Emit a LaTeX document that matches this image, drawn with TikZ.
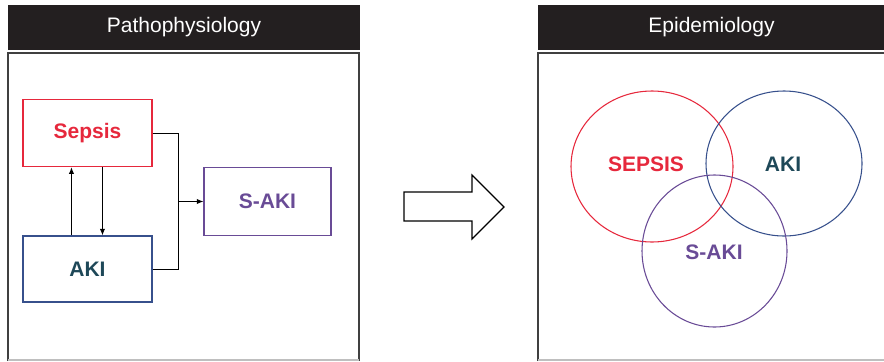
\documentclass[tikz,border=0pt]{standalone}
\usepackage{fontspec}
\setmainfont{Liberation Sans}
\usetikzlibrary{arrows.meta,calc}
\definecolor{sepsisred}{RGB}{230,40,60}
\definecolor{akiblue}{RGB}{55,80,140}
\definecolor{akiteal}{RGB}{30,72,88}
\definecolor{sakipurple}{RGB}{105,75,150}
\definecolor{barblack}{RGB}{35,31,32}
\newcommand{\lbl}{\fontsize{15.75}{18}\selectfont}

\begin{document}
\begin{tikzpicture}[x=0.75pt, y=-0.75pt,
  box/.style={draw, line width=0.8pt, minimum width=96.75pt, minimum height=50.5pt, font=\lbl\bfseries},
  link/.style={line width=0.75pt},
  arr/.style={line width=0.75pt, -{Latex[length=5pt,width=4pt]}},
  ring/.style={line width=0.8pt},
  bar/.style={fill=barblack, minimum width=264pt, minimum height=33.75pt, text=white, font=\lbl},
  frame/.style={draw=black!75, line width=1pt}]
  \useasboundingbox (0,0) rectangle (884,361);
  % left panel
  \node[bar] (phys) at (184,27.5) {Pathophysiology};
  \draw[frame] (8,361) -- (8,53) -- (359,53) -- (359,361);
  \draw[black!25, line width=0.8pt] (8,360) -- (359,360);
  \node[box, draw=sepsisred, text=sepsisred] (sepsis) at (87.5,133) {Sepsis};
  \node[box, draw=akiblue, text=akiteal, minimum height=49.5pt] (aki) at (87.5,269) {AKI};
  \node[box, draw=sakipurple, text=sakipurple, minimum width=95.25pt] (saki) at (267.5,201.5) {S-AKI};
  \coordinate (join) at (178,201.5);
  \draw[link] (sepsis.east) -| (join);
  \draw[link] (aki.east) -| (join);
  \draw[arr] (join) -- (saki.west);
  \draw[arr] ($(aki.north west)+(49,0)$) -- ($(sepsis.south west)+(49,0)$);
  \draw[arr] ($(sepsis.south west)+(80,0)$) -- ($(aki.north west)+(80,0)$);
  % big arrow
  \draw[line width=0.9pt, line join=miter] (404,192) -- (472,192) -- (472,175) -- (504,207)
    -- (472,239) -- (472,221) -- (404,221) -- cycle;
  % right panel
  \node[bar, minimum width=260pt] (epi) at (711.5,27.5) {Epidemiology};
  \draw[frame] (538,361) -- (538,53) -- (890,53);
  \draw[black!25, line width=0.8pt] (538,360) -- (884,360);
  \draw[ring, sepsisred] (652,166.5) ellipse [x radius=81, y radius=75.5];
  \draw[ring, akiblue] (784,163.5) ellipse [x radius=78, y radius=72.5];
  \draw[ring, sakipurple] (714.5,251) ellipse [x radius=72.5, y radius=76];
  \node[font=\lbl\bfseries, text=sepsisred] (vsepsis) at (646,164) {SEPSIS};
  \node[font=\lbl\bfseries, text=akiteal] (vaki) at (783,164) {AKI};
  \node[font=\lbl\bfseries, text=sakipurple] (vsaki) at (714,252) {S-AKI};
\end{tikzpicture}
\end{document}
